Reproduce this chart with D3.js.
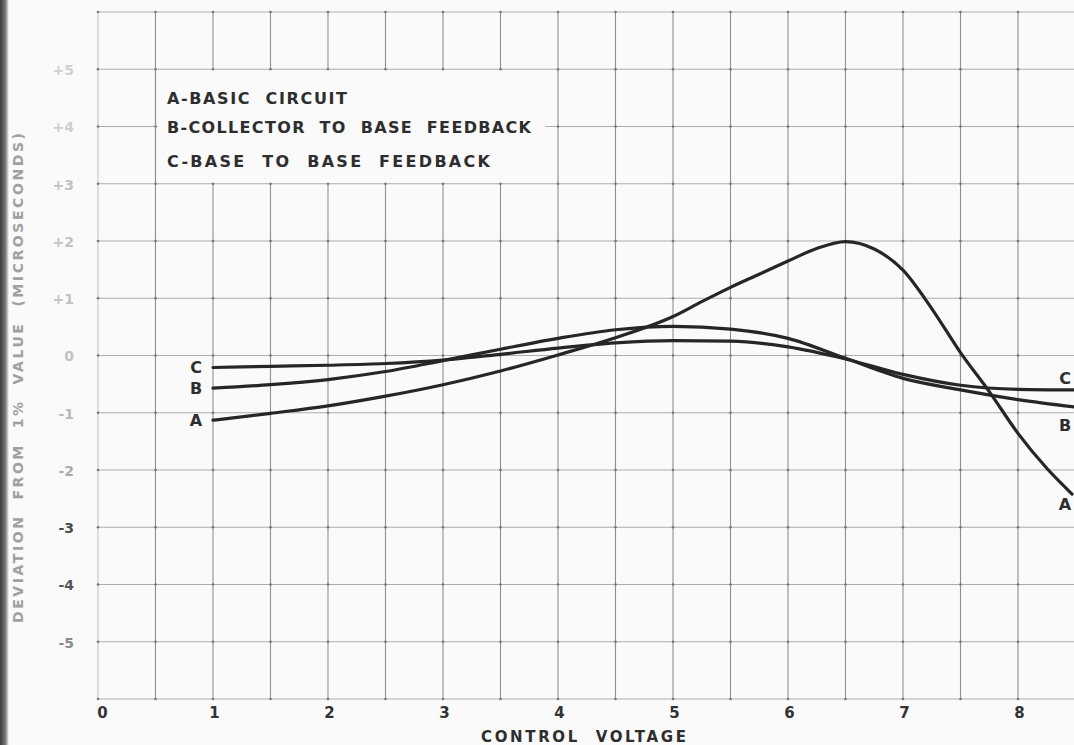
<!DOCTYPE html>
<html>
<head>
<meta charset="utf-8">
<script src="https://cdn.jsdelivr.net/npm/d3@7"></script>
<style>
  html, body { margin: 0; padding: 0; background: #fafafa; }
  svg { display: block; }
  text { font-family: "DejaVu Sans", sans-serif; font-weight: bold; }
</style>
</head>
<body>
<svg id="chart" width="1074" height="745"></svg>
<script>
// ---- data ----
const xTickValues = [0, 1, 2, 3, 4, 5, 6, 7, 8];
const xTickLabels = ["0", "1", "2", "3", "4", "5", "6", "7", "8"];
const yTickValues = [5, 4, 3, 2, 1, 0, -1, -2, -3, -4, -5];
const yTickLabels = ["+5", "+4", "+3", "+2", "+1", "0", "-1", "-2", "-3", "-4", "-5"];

const voltageA   = [1, 1.5, 2, 2.5, 3, 3.5, 4, 4.5, 5, 5.25, 5.5, 5.75, 6, 6.25, 6.5, 6.75, 7, 7.25, 7.5, 7.75, 8, 8.25, 8.47];
const deviationA = [-1.13, -1.01, -0.88, -0.71, -0.51, -0.27, 0.01, 0.31, 0.68, 0.94, 1.19, 1.42, 1.65, 1.87, 1.99, 1.86, 1.49, 0.82, 0.05, -0.63, -1.36, -1.97, -2.42];

const voltageBC  = [1, 1.5, 2, 2.5, 3, 3.5, 4, 4.5, 5, 5.5, 6, 6.5, 7, 7.5, 8, 8.5];
const deviationB = [-0.57, -0.51, -0.42, -0.28, -0.09, 0.11, 0.3, 0.45, 0.51, 0.46, 0.3, -0.05, -0.4, -0.6, -0.77, -0.9];
const deviationC = [-0.21, -0.19, -0.17, -0.14, -0.08, 0.02, 0.13, 0.22, 0.26, 0.25, 0.15, -0.06, -0.33, -0.52, -0.59, -0.6];

const curveNames = ["A", "B", "C"];
const legendLabels = ["A-BASIC  CIRCUIT", "B-COLLECTOR  TO  BASE  FEEDBACK", "C-BASE  TO  BASE  FEEDBACK"];
const xTitle = "CONTROL  VOLTAGE";
const yTitle = "DEVIATION  FROM  1%  VALUE  (MICROSECONDS)";

// ---- layout ----
const svg = d3.select("#chart");
const x = d3.scaleLinear().domain([0, 8]).range([98, 1018]);
const y = d3.scaleLinear().domain([-6, 6]).range([699, 12]);

// background
svg.append("rect").attr("width", 1074).attr("height", 745).attr("fill", "#fafafa");
const defs = svg.append("defs");
const grad = defs.append("linearGradient").attr("id", "edge").attr("x1", 0).attr("x2", 1);
grad.append("stop").attr("offset", 0).attr("stop-color", "#3a3a3a");
grad.append("stop").attr("offset", 0.6).attr("stop-color", "#777");
grad.append("stop").attr("offset", 1).attr("stop-color", "#fafafa");
svg.append("rect").attr("x", 0).attr("y", 0).attr("width", 9).attr("height", 745).attr("fill", "url(#edge)");

// grid
const vLines = d3.range(0, 8.51, 0.5);
const hLines = d3.range(-6, 6.01, 1);
const grid = svg.append("g");
grid.selectAll("line.h").data(hLines).join("line")
  .attr("x1", x(0)).attr("x2", 1074)
  .attr("y1", d => y(d)).attr("y2", d => y(d))
  .attr("stroke", "#adadad").attr("stroke-width", 1.1);
grid.selectAll("line.v").data(vLines).join("line")
  .attr("x1", d => x(d)).attr("x2", d => x(d))
  .attr("y1", y(6)).attr("y2", y(-6))
  .attr("stroke", d => d === 0 ? "#c4c4c4" : "#8f8f8f").attr("stroke-width", 1.1);
// intersection dots
const pts = [];
vLines.forEach(vx => hLines.forEach(hy => pts.push([vx, hy])));
grid.selectAll("circle").data(pts).join("circle")
  .attr("cx", d => x(d[0])).attr("cy", d => y(d[1])).attr("r", 1.3).attr("fill", "#777");

// legend box (covers grid)
svg.append("rect")
  .attr("x", x(0.52)).attr("y", y(4.98))
  .attr("width", x(3.89) - x(0.52)).attr("height", y(3.02) - y(4.98))
  .attr("fill", "#fafafa");
svg.append("line").attr("x1", x(0.5)).attr("x2", x(0.5)).attr("y1", y(5)).attr("y2", y(3))
  .attr("stroke", "#8f8f8f").attr("stroke-width", 1.1);

const legendBaselines = [104, 133, 167];
const legendWidths = [180, 364, 323];
svg.append("g").selectAll("text").data(legendLabels).join("text")
  .attr("x", 167).attr("y", (d, i) => legendBaselines[i])
  .attr("font-size", 16).attr("fill", "#2e2e2e")
  .attr("textLength", (d, i) => legendWidths[i]).attr("lengthAdjust", "spacing")
  .style("white-space", "pre")
  .text(d => d);

// curves
const line = d3.line().x(d => x(d[0])).y(d => y(d[1])).curve(d3.curveMonotoneX);
const series = [
  d3.zip(voltageA, deviationA),
  d3.zip(voltageBC, deviationB),
  d3.zip(voltageBC, deviationC)
];
svg.append("g").selectAll("path").data(series).join("path")
  .attr("d", line).attr("fill", "none")
  .attr("stroke", "#262626").attr("stroke-width", 3.2)
  .attr("stroke-linecap", "round").attr("stroke-linejoin", "round");

// curve labels
const rightOffsets = [10, 18, -12];
const lbl = svg.append("g").attr("font-size", 16).attr("fill", "#2e2e2e").attr("text-anchor", "middle");
series.forEach((s, i) => {
  lbl.append("text").attr("x", x(s[0][0]) - 17).attr("y", y(s[0][1])).attr("dy", "0.36em").text(curveNames[i]);
  const last = s[s.length - 1];
  lbl.append("text").attr("x", x(8) + 47).attr("y", y(last[1]) + rightOffsets[i]).attr("dy", "0.36em").text(curveNames[i]);
});

// x axis labels
const xAxis = d3.axisBottom(x).tickValues(xTickValues).tickSize(0).tickPadding(0)
  .tickFormat((d, i) => xTickLabels[i]);
const gx = svg.append("g").attr("transform", `translate(0, ${y(-6)})`).call(xAxis);
gx.select(".domain").remove();
gx.selectAll("text").attr("font-size", 15).attr("fill", "#333")
  .attr("font-family", "DejaVu Sans").attr("font-weight", "bold")
  .attr("y", 8).attr("dy", "0.71em").attr("dx", d => d === 0 ? 4 : 1);

// y axis labels
const yColors = ["#cfcfcf", "#cfcfcf", "#c2c2c2", "#c2c2c2", "#c2c2c2", "#c2c2c2", "#b8b8b8", "#aaa", "#4a4a4a", "#555", "#8a8a8a"];
const yAxis = d3.axisLeft(y).tickValues(yTickValues).tickSize(0).tickPadding(0)
  .tickFormat((d, i) => yTickLabels[i]);
const gy = svg.append("g").attr("transform", `translate(74, 0)`).call(yAxis);
gy.select(".domain").remove();
gy.selectAll("text").attr("font-size", 14)
  .attr("font-family", "DejaVu Sans").attr("font-weight", "bold")
  .attr("x", 0).attr("dy", "0.38em")
  .attr("fill", (d, i) => yColors[i]);

// titles
svg.append("text").attr("x", 481).attr("y", 742)
  .attr("font-size", 15).attr("fill", "#2e2e2e")
  .attr("textLength", 205).attr("lengthAdjust", "spacing")
  .style("white-space", "pre").text(xTitle);

svg.append("text")
  .attr("transform", "translate(23, 623) rotate(-90)")
  .attr("font-size", 14).attr("fill", "#a0a0a0")
  .attr("textLength", 490).attr("lengthAdjust", "spacing")
  .style("white-space", "pre").text(yTitle);
</script>
</body>
</html>
